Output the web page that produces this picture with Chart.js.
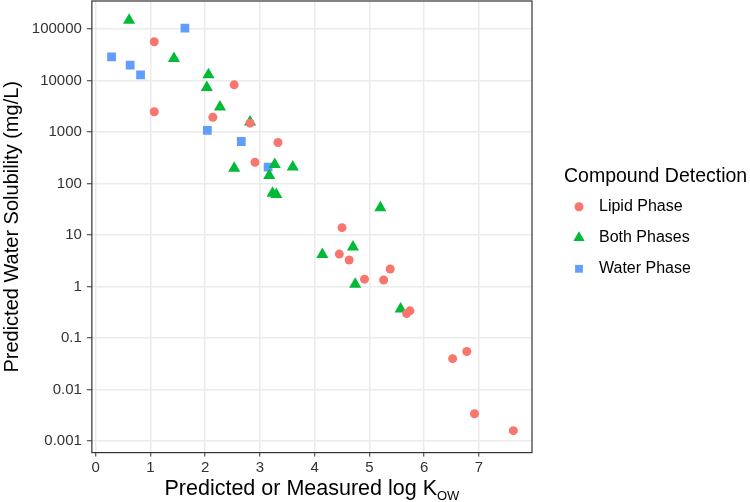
<!DOCTYPE html>
<html>
<head>
<meta charset="utf-8">
<script src="https://cdn.jsdelivr.net/npm/chart.js@4/dist/chart.umd.min.js"></script>
<style>
html, body { margin: 0; padding: 0; background: #fff; }
#wrap { width: 750px; height: 502px; }
</style>
</head>
<body>
<div id="wrap"><canvas id="myChart"></canvas></div>
<script>
// log Kow (x) and predicted water solubility in mg/L (y) for each detection group
var lipidX = [1.07, 2.53, 1.07, 2.14, 2.82, 3.33, 2.91, 4.50, 4.45, 4.63, 5.38, 4.91, 5.26, 5.68, 5.74, 6.52, 6.78, 6.92, 7.63];
var lipidY = [57000, 8300, 2500, 1950, 1500, 630, 260, 14, 4.3, 3.3, 2.2, 1.4, 1.35, 0.30, 0.34, 0.040, 0.055, 0.0034, 0.0016];

var bothX = [0.61, 1.43, 2.06, 2.03, 2.27, 2.82, 2.53, 3.27, 3.60, 3.17, 3.23, 3.30, 5.20, 4.70, 4.14, 4.74, 5.57];
var bothY = [150000, 27000, 13000, 7400, 3100, 1580, 200, 235, 210, 145, 65, 62, 34, 5.9, 4.2, 1.12, 0.37];

var waterX = [1.63, 0.29, 0.63, 0.82, 2.04, 2.66, 3.15];
var waterY = [105000, 29000, 20000, 13000, 1090, 660, 210];

var xTicks = [0, 1, 2, 3, 4, 5, 6, 7];
var yTicks = [0.001, 0.01, 0.1, 1, 10, 100, 1000, 10000, 100000];

function pairs(xs, ys) {
  return xs.map(function (x, i) { return { x: x, y: ys[i] }; });
}

var font = '"Liberation Sans", Arial, sans-serif';

// panel border around the plotting area, like ggplot's theme_bw
var panelBorder = {
  id: 'panelBorder',
  afterDraw: function (chart) {
    var a = chart.chartArea, c = chart.ctx;
    c.save();
    c.strokeStyle = '#333333';
    c.lineWidth = 1.2;
    c.strokeRect(a.left, a.top, a.right - a.left, a.bottom - a.top);
    c.restore();
  }
};

// x axis title with the OW subscript
var xTitle = {
  id: 'xTitle',
  afterDraw: function (chart) {
    var a = chart.chartArea, c = chart.ctx;
    var main = 'Predicted or Measured log K', sub = 'OW';
    c.save();
    c.fillStyle = '#000';
    c.textBaseline = 'alphabetic';
    c.font = '21.5px ' + font;
    var w1 = c.measureText(main).width;
    c.font = '13px ' + font;
    var w2 = c.measureText(sub).width;
    var x0 = (a.left + a.right) / 2 - (w1 + w2) / 2;
    var y0 = chart.height - 7;
    c.font = '21.5px ' + font;
    c.fillText(main, x0, y0);
    c.font = '13px ' + font;
    c.fillText(sub, x0 + w1, y0 + 5);
    c.restore();
  }
};

// legend to the right of the panel, ggplot style
var sideLegend = {
  id: 'sideLegend',
  afterDraw: function (chart) {
    var a = chart.chartArea, c = chart.ctx;
    var x0 = a.right + 32;
    var mid = (a.top + a.bottom) / 2;
    c.save();
    c.fillStyle = '#000';
    c.textBaseline = 'middle';
    c.textAlign = 'left';
    c.font = '19.5px ' + font;
    c.fillText('Compound Detection', x0, mid - 50);
    var sizes = [4.5, 6.5, 5.5];
    chart.data.datasets.forEach(function (ds, i) {
      var y = mid - 20 + i * 31;
      c.fillStyle = ds.backgroundColor;
      Chart.helpers.drawPoint(c, { pointStyle: ds.pointStyle, radius: sizes[i], rotation: 0, borderWidth: 0 }, x0 + 15, y);
      c.fillStyle = '#000';
      c.font = '16px ' + font;
      c.fillText(ds.label, x0 + 35, y);
    });
    c.restore();
  }
};

var ctx = document.getElementById('myChart');
var myChart = new Chart(ctx, {
  type: 'scatter',
  data: {
    datasets: [
      {
        label: 'Lipid Phase',
        data: pairs(lipidX, lipidY),
        backgroundColor: '#F8766D',
        borderColor: '#F8766D',
        pointStyle: 'circle',
        pointRadius: 4.5,
        borderWidth: 0
      },
      {
        label: 'Both Phases',
        data: pairs(bothX, bothY),
        backgroundColor: '#00BA38',
        borderColor: '#00BA38',
        pointStyle: 'triangle',
        pointRadius: 7,
        borderWidth: 0
      },
      {
        label: 'Water Phase',
        data: pairs(waterX, waterY),
        backgroundColor: '#619CFF',
        borderColor: '#619CFF',
        pointStyle: 'rect',
        pointRadius: 6.2,
        borderWidth: 0
      }
    ]
  },
  options: {
    responsive: true,
    maintainAspectRatio: false,
    animation: false,
    layout: { autoPadding: false, padding: { top: 1, right: 218, bottom: 0, left: 0 } },
    plugins: {
      tooltip: { enabled: false },
      legend: { display: false }
    },
    scales: {
      x: {
        type: 'linear',
        min: -0.07,
        max: 7.97,
        afterBuildTicks: function (scale) {
          scale.ticks = xTicks.map(function (v) { return { value: v }; });
        },
        ticks: {
          color: '#333',
          font: { family: font, size: 15 },
          padding: 2,
          maxRotation: 0
        },
        grid: {
          color: '#EBEBEB',
          lineWidth: 1.5,
          tickColor: '#333',
          tickLength: 4,
          tickWidth: 1
        },
        border: { display: false },
        title: {
          display: true,
          text: 'Predicted or Measured log KOW',
          color: 'rgba(0,0,0,0)',
          font: { family: font, size: 19.5 },
          padding: 0
        }
      },
      y: {
        type: 'logarithmic',
        min: 0.000646,
        max: 353000,
        afterBuildTicks: function (scale) {
          scale.ticks = yTicks.map(function (v) { return { value: v }; });
        },
        afterFit: function (scale) {
          scale.paddingTop = 0;
          scale.paddingBottom = 0;
        },
        ticks: {
          color: '#333',
          font: { family: font, size: 15 },
          padding: 5,
          callback: function (v) { return String(v); }
        },
        grid: {
          color: '#EBEBEB',
          lineWidth: 1.5,
          tickColor: '#333',
          tickLength: 5,
          tickWidth: 1
        },
        border: { display: false },
        title: {
          display: true,
          text: 'Predicted Water Solubility (mg/L)',
          color: '#000',
          font: { family: font, size: 20 },
          padding: { top: 0, bottom: 2.8 }
        }
      }
    }
  },
  plugins: [panelBorder, xTitle, sideLegend]
});
</script>
</body>
</html>
